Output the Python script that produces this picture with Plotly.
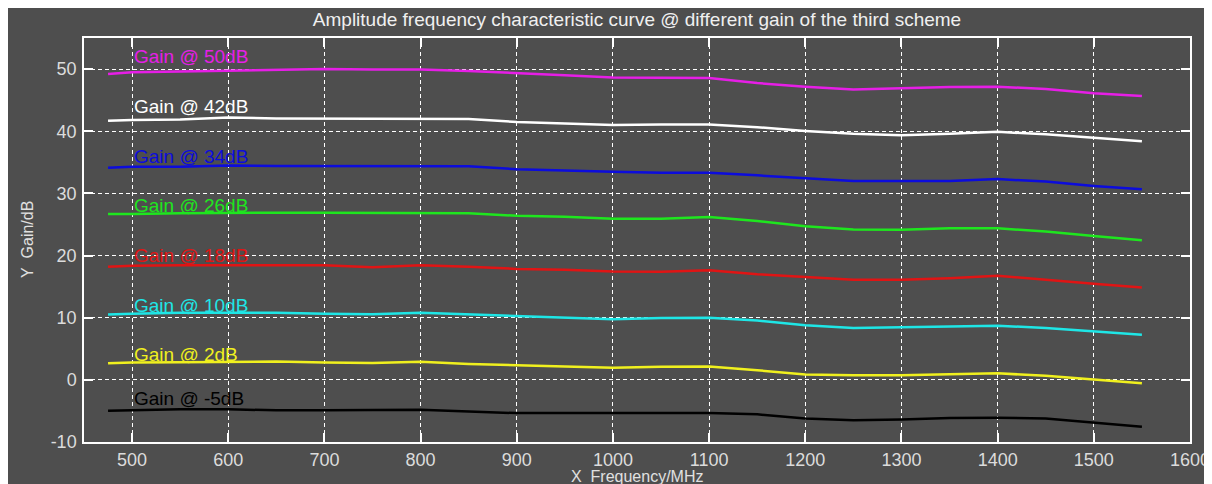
import plotly.graph_objects as go

freq = [475, 500, 550, 600, 650, 700, 750, 800, 850, 900, 950, 1000,
        1050, 1100, 1150, 1200, 1250, 1300, 1350, 1400, 1450, 1500, 1550]

g50 = [49.2, 49.5, 49.6, 49.7, 49.85, 50.0, 49.95, 49.95, 49.7, 49.3, 49.0, 48.65,
       48.55, 48.55, 47.75, 47.15, 46.7, 46.9, 47.1, 47.15, 46.8, 46.1, 45.65]
g42 = [41.67, 41.8, 41.9, 42.2, 42.05, 42.0, 42.0, 42.0, 41.95, 41.5, 41.3, 41.0,
       41.1, 41.1, 40.65, 40.05, 39.6, 39.35, 39.6, 39.9, 39.5, 38.9, 38.4]
g34 = [34.14, 34.3, 34.3, 34.5, 34.4, 34.4, 34.4, 34.4, 34.35, 33.9, 33.65, 33.5,
       33.3, 33.3, 32.9, 32.4, 32.0, 32.0, 32.0, 32.3, 31.9, 31.2, 30.65]
g26 = [26.67, 26.67, 26.8, 26.9, 26.9, 26.9, 26.9, 26.9, 26.8, 26.4, 26.25, 25.9,
       25.9, 26.2, 25.55, 24.7, 24.2, 24.15, 24.4, 24.4, 23.85, 23.15, 22.45]
g18 = [18.2, 18.35, 18.45, 18.45, 18.45, 18.45, 18.1, 18.45, 18.2, 17.85, 17.7, 17.45,
       17.4, 17.65, 17.0, 16.5, 16.1, 16.1, 16.35, 16.75, 16.05, 15.45, 14.85]
g10 = [10.5, 10.65, 10.8, 10.8, 10.8, 10.65, 10.55, 10.8, 10.55, 10.2, 9.95, 9.75,
       9.95, 10.0, 9.55, 8.8, 8.35, 8.45, 8.55, 8.7, 8.35, 7.75, 7.25]
g2 = [2.67, 2.8, 2.85, 2.95, 2.95, 2.8, 2.7, 2.9, 2.55, 2.35, 2.15, 1.95,
      2.1, 2.15, 1.55, 0.85, 0.75, 0.75, 0.9, 1.05, 0.65, 0.05, -0.55]
gm5 = [-4.97, -4.9, -4.75, -4.75, -4.9, -4.9, -4.9, -4.8, -5.1, -5.35, -5.35, -5.35,
       -5.35, -5.35, -5.55, -6.2, -6.5, -6.4, -6.15, -6.1, -6.2, -6.85, -7.55]

series = [g50, g42, g34, g26, g18, g10, g2, gm5]
labels = ["Gain @ 50dB", "Gain @ 42dB", "Gain @ 34dB", "Gain @ 26dB",
          "Gain @ 18dB", "Gain @ 10dB", "Gain @ 2dB", "Gain @ -5dB"]
label_x = [500] * 8
label_y = [52, 44, 36, 28, 20, 12, 4, -3]
colors = ["#e61ee6", "#ffffff", "#0c0cdc", "#1ee61e", "#e01414", "#1ee6e6", "#f0f01e", "#000000"]

x_ticks = [500, 600, 700, 800, 900, 1000, 1100, 1200, 1300, 1400, 1500, 1600]
x_ticktext = ["500", "600", "700", "800", "900", "1000", "1100", "1200", "1300", "1400", "1500", "1600"]
y_ticks = [-10, 0, 10, 20, 30, 40, 50]
y_ticktext = ["-10", "0", "10", "20", "30", "40", "50"]

BG = "#4e4e4e"
FONT = "Liberation Sans, Arial, sans-serif"
PLOT_W = 1106
PLOT_H = 404

fig = go.Figure()
for ys, name, c in zip(series, labels, colors):
    fig.add_trace(go.Scatter(x=freq, y=ys, mode="lines", name=name,
                             line=dict(color=c, width=2.5), showlegend=False))

for tx, ty, t, c in zip(label_x, label_y, labels, colors):
    fig.add_annotation(x=tx, y=ty, text=t, showarrow=False, xanchor="left",
                       yanchor="middle", font=dict(color=c, size=19, family=FONT))

# axis titles
fig.add_annotation(x=0.5, y=-34 / PLOT_H, xref="paper", yref="paper", text="X\u00a0 Frequency/MHz",
                   showarrow=False, xanchor="center", yanchor="middle",
                   font=dict(color="#e0e0e0", size=16, family=FONT))
fig.add_annotation(x=-57 / PLOT_W, y=0.5, xref="paper", yref="paper", text="Y\u00a0 Gain/dB",
                   showarrow=False, xanchor="center", yanchor="middle", textangle=-90,
                   font=dict(color="#e0e0e0", size=16, family=FONT))

axis_common = dict(
    showline=True, linecolor="white", linewidth=1.5, mirror="allticks",
    ticks="inside", ticklen=9, tickcolor="white", tickwidth=1.5,
    showgrid=True, gridcolor="white", gridwidth=1.2, griddash="4px,3px",
    zeroline=False, automargin=False,
    tickfont=dict(color="#dcdcdc", size=18, family=FONT),
)

fig.update_xaxes(range=[450, 1600], tickvals=x_ticks, ticktext=x_ticktext,
                 ticklabelstandoff=1, **axis_common)
fig.update_yaxes(range=[-10, 55], tickvals=y_ticks, ticktext=y_ticktext,
                 ticklabelstandoff=2, **axis_common)

fig.update_layout(
    width=1212, height=484,
    margin=dict(l=76, r=30, t=30, b=50, autoexpand=False),
    paper_bgcolor=BG, plot_bgcolor=BG,
    title=dict(text="Amplitude frequency characteristic curve @ different gain of the third scheme",
               x=0.5, xref="paper", xanchor="center", y=1 - 11.5 / 484, yref="container",
               yanchor="middle", automargin=False,
               font=dict(color="#f0f0f0", size=19, family=FONT)),
)

fig.write_html("out.html")
